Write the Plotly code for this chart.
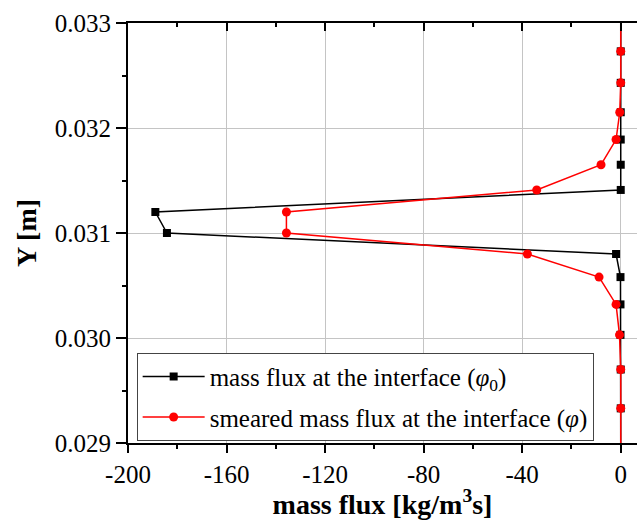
import plotly.graph_objects as go

# Vertical positions of the grid nodes [m]
y_nodes = [0.02893, 0.02933, 0.02970, 0.03003, 0.03032, 0.03058, 0.03080,
           0.03100, 0.03120, 0.03141, 0.03165, 0.03189, 0.03215, 0.03243,
           0.03273, 0.03306]

# Mass flux at the interface (phi_0) [kg/m^3 s]
flux_phi0 = [0.0, 0.0, 0.0, -0.1, -0.1, -0.1, -1.9,
             -184.2, -188.9, 0.0, 0.0, 0.0, 0.0, 0.0,
             0.0, 0.0]

# Smeared mass flux at the interface (phi) [kg/m^3 s]
flux_phi = [0.0, 0.0, 0.0, -0.5, -1.9, -8.8, -37.9,
            -135.7, -135.7, -34.1, -8.0, -1.9, -0.4, 0.0,
            0.0, 0.0]

x_tick_vals = [-200, -160, -120, -80, -40, 0]
x_tick_text = ["-200", "-160", "-120", "-80", "-40", "0"]
y_tick_vals = [0.029, 0.030, 0.031, 0.032, 0.033]

FONT = "Liberation Serif, Times New Roman, serif"
X_RANGE = [-200, 6.6]
Y_RANGE = [0.029, 0.033]

fig = go.Figure()

fig.add_trace(go.Scatter(
    x=flux_phi0, y=y_nodes, mode="lines+markers",
    name="mass flux at the interface (<i>φ</i><sub>0</sub>)",
    legendgroup="a",
    line=dict(color="black", width=1.5),
    marker=dict(symbol="square", size=8, color="black"),
))
fig.add_trace(go.Scatter(
    x=flux_phi, y=y_nodes, mode="lines+markers",
    name="smeared mass flux at the interface (<i>φ</i>)",
    legendgroup="b",
    line=dict(color="#ff0000", width=1.5),
    marker=dict(symbol="circle", size=9, color="#ff0000"),
))
# invisible trace that anchors the top (mirror) axis
fig.add_trace(go.Scatter(
    x=[X_RANGE[0]], y=[Y_RANGE[0]], xaxis="x2", mode="markers",
    marker=dict(opacity=0), showlegend=False, hoverinfo="skip",
))

fig.update_layout(
    width=637, height=520,
    margin=dict(l=128, r=0, t=23, b=77),
    paper_bgcolor="white", plot_bgcolor="white",
    font=dict(family=FONT, size=25, color="black"),
    showlegend=True,
    legend=dict(
        x=0.017, y=0.215, xanchor="left", yanchor="top",
        bgcolor="white", bordercolor="#444444", borderwidth=1,
        font=dict(family=FONT, size=25, color="black"),
        traceorder="grouped", tracegroupgap=5,
        itemwidth=62,
    ),
    xaxis=dict(
        range=X_RANGE, tickvals=x_tick_vals, ticktext=x_tick_text,
        ticks="outside", ticklen=8, tickwidth=1.5, tickcolor="black",
        minor=dict(dtick=20, tick0=0, ticks="outside", ticklen=4,
                   tickwidth=1.5, tickcolor="black", showgrid=False),
        showline=True, linecolor="black", linewidth=2,
        showgrid=True, gridcolor="#c4c4c4", gridwidth=1,
        zeroline=False,
        tickfont=dict(family=FONT, size=25),
        title=dict(text="<b>mass flux [kg/m<sup>3</sup>s]</b>",
                   font=dict(family=FONT, size=28), standoff=10),
    ),
    xaxis2=dict(
        range=X_RANGE, overlaying="x", side="top",
        tickvals=x_tick_vals, showticklabels=False,
        ticks="inside", ticklen=8, tickwidth=1.5, tickcolor="black",
        minor=dict(dtick=20, tick0=0, ticks="inside", ticklen=4,
                   tickwidth=1.5, tickcolor="black", showgrid=False),
        showline=True, linecolor="black", linewidth=2,
        showgrid=False, zeroline=False,
    ),
    yaxis=dict(
        range=Y_RANGE, tickvals=y_tick_vals, tickformat=".3f",
        ticks="outside", ticklen=10, tickwidth=1.5, tickcolor="black",
        minor=dict(dtick=0.0005, tick0=0.029, ticks="outside", ticklen=4,
                   tickwidth=1.5, tickcolor="black", showgrid=False),
        showline=True, linecolor="black", linewidth=2,
        showgrid=True, gridcolor="#c4c4c4", gridwidth=1,
        zeroline=False,
        tickfont=dict(family=FONT, size=25),
        title=dict(text="<b>Y [m]</b>",
                   font=dict(family=FONT, size=28), standoff=10),
    ),
)

fig.write_html("out.html")
